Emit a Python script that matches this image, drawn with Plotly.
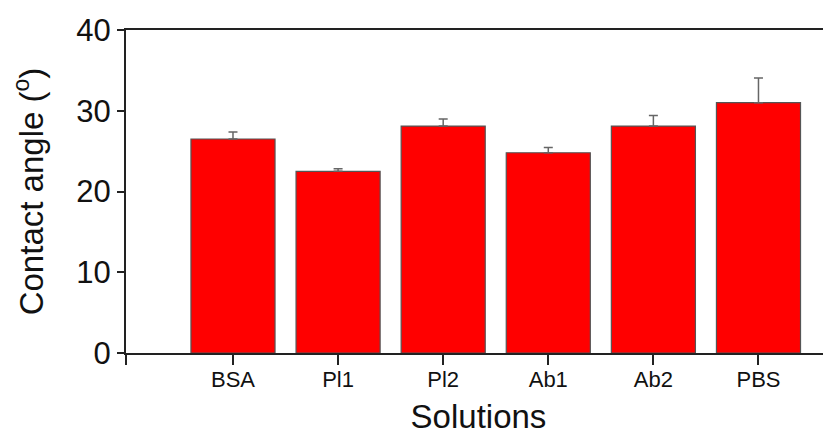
import plotly.graph_objects as go

categories = ["BSA", "Pl1", "Pl2", "Ab1", "Ab2", "PBS"]
contact_angle = [26.5, 22.5, 28.1, 24.8, 28.1, 31.0]
error_plus = [0.87, 0.33, 0.87, 0.65, 1.3, 3.05]
y_ticks = [0, 10, 20, 30, 40]

FONT = "Liberation Sans, Arial, sans-serif"
positions = list(range(len(categories)))

fig = go.Figure()
fig.add_trace(go.Bar(
    x=positions,
    y=contact_angle,
    width=0.8,
    marker=dict(color="#FF0000", line=dict(color="#555555", width=1.2)),
    error_y=dict(type="data", array=error_plus, symmetric=False,
                 arrayminus=[0] * len(categories),
                 color="#666666", thickness=1.5, width=4.5),
    showlegend=False,
))

# page body has an 8px default margin: size the figure to fill the rest
x_left, x_right = -1.018, 5.69
fig.update_layout(
    width=823, height=427,
    margin=dict(l=118, r=0, t=22, b=82),
    paper_bgcolor="white", plot_bgcolor="white",
    font=dict(family=FONT, color="#111111"),
    bargap=0.2,
)
fig.update_xaxes(
    automargin=False,
    range=[x_left, x_right],
    tickmode="array",
    tickvals=[x_left] + positions,
    ticktext=[""] + categories,
    ticks="outside", ticklen=10, tickwidth=1.5, tickcolor="#222222",
    ticklabelstandoff=-4,
    showline=True, linecolor="#222222", linewidth=2, mirror=True,
    showgrid=False, zeroline=False,
    tickfont=dict(size=22, family=FONT, color="#111111"),
    title=dict(text="Solutions", font=dict(size=33, family=FONT, color="#111111"), standoff=36),
)
fig.update_yaxes(
    automargin=False,
    range=[0, 40],
    tickmode="array", tickvals=y_ticks,
    ticks="outside", ticklen=7, tickwidth=1.5, tickcolor="#222222",
    showline=True, linecolor="#222222", linewidth=2,
    showgrid=False, zeroline=False,
    tickfont=dict(size=31, family=FONT, color="#111111"),
    title=dict(text="Contact angle (<sup>o</sup>)", font=dict(size=33, family=FONT, color="#111111"), standoff=27),
)

fig.write_html("out.html")
